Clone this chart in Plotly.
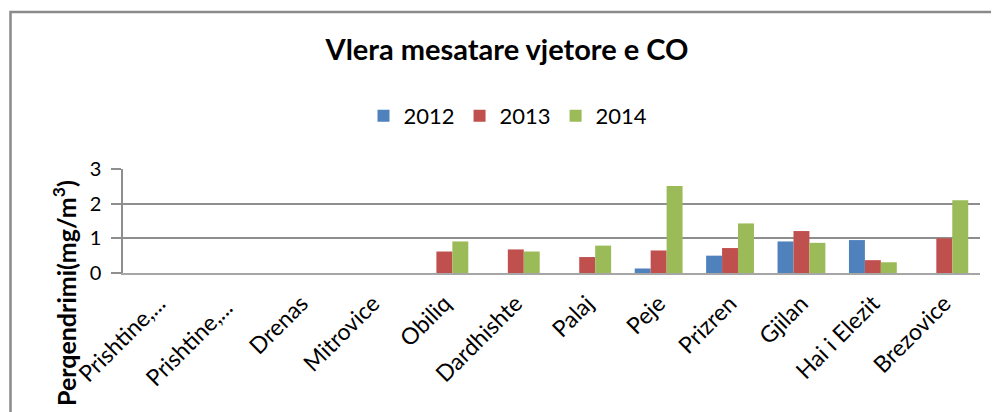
import plotly.graph_objects as go

categories = ["Prishtine,...", "Prishtine,... ", "Drenas", "Mitrovice", "Obiliq", "Dardhishte",
              "Palaj", "Peje", "Prizren", "Gjilan", "Hai i Elezit", "Brezovice"]
v2012 = [None, None, None, None, None, None, None, 0.13, 0.50, 0.91, 0.95, None]
v2013 = [None, None, None, None, 0.62, 0.68, 0.46, 0.65, 0.72, 1.21, 0.37, 1.00]
v2014 = [None, None, None, None, 0.91, 0.62, 0.79, 2.51, 1.43, 0.87, 0.31, 2.10]
series_names = ["2012", "2013", "2014"]
colors = ["#4F81BD", "#C0504D", "#9BBB59"]
title_text = "Vlera mesatare vjetore e CO"
ytitle_text = "Perqendrimi(mg/m<sup>3</sup>)"

# page body has an 8px margin: figure coordinates = screen coordinates - 8
OFF = 8
W, H = 999 - OFF, 412 - OFF
L, T = 123 - OFF, 169 - OFF
pw, ph = 857, 104
R = W - L - pw
B = H - T - ph

def px_x(x):
    return (x - OFF - L) / pw

def px_y(y):
    return 1 - (y - OFF - T) / ph

FONT = "Lato, 'Open Sans', sans-serif"

fig = go.Figure()
for name, vals, col in zip(series_names, [v2012, v2013, v2014], colors):
    fig.add_trace(go.Bar(name=name, x=categories, y=vals, marker_color=col,
                         marker_line_width=0))

fig.update_layout(
    width=W, height=H,
    margin=dict(l=L, r=R, t=T, b=B, autoexpand=False),
    paper_bgcolor="white", plot_bgcolor="white",
    barmode="group", bargap=0.33, bargroupgap=0,
    font=dict(family=FONT, size=18, color="#000000"),
    title=dict(text="<b>" + title_text + "</b>", x=px_x(507), xref="paper", xanchor="center",
               y=1 - (50 - OFF) / H, yref="container", yanchor="middle",
               font=dict(family=FONT, size=29, color="#000000")),
    legend=dict(orientation="h", x=px_x(508), xanchor="center", y=px_y(116), yanchor="middle",
                font=dict(family=FONT, size=22), bgcolor="rgba(0,0,0,0)",
                traceorder="normal", itemwidth=30),
    showlegend=True,
)
fig.update_yaxes(range=[0, 3], dtick=1, tick0=0, showgrid=True, gridcolor="#8E8E8E", gridwidth=1.5,
                 showline=True, linecolor="#8E8E8E", linewidth=1.5,
                 ticks="outside", ticklen=10, tickcolor="#8E8E8E", tickwidth=1.5,
                 zeroline=False, tickfont=dict(family=FONT, size=20), ticklabelstandoff=6)
fig.update_xaxes(showgrid=False, showline=True, linecolor="#A6A6A6", linewidth=2,
                 ticks="", tickangle=-45, tickfont=dict(family=FONT, size=23),
                 ticklabelstandoff=6)

fig.add_annotation(text="<b>" + ytitle_text + "</b>", textangle=-90, xref="paper", yref="paper",
                   x=px_x(64), y=px_y(293), xanchor="center", yanchor="middle", showarrow=False,
                   font=dict(family=FONT, size=25, color="#000000"))

fig.add_shape(type="rect", xref="paper", yref="paper",
              x0=px_x(10.5), x1=px_x(1010), y0=px_y(430), y1=px_y(12),
              line=dict(color="#8A8A8A", width=2.5), fillcolor="rgba(0,0,0,0)", layer="below")

fig.write_html("out.html")
